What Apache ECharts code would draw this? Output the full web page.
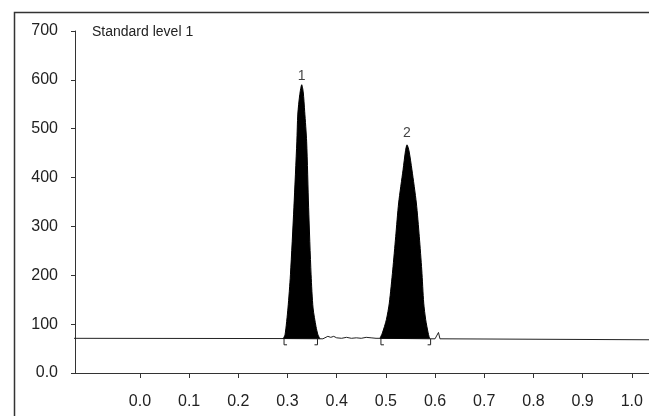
<!DOCTYPE html>
<html>
<head>
<meta charset="utf-8">
<script src="https://cdn.jsdelivr.net/npm/echarts@6/dist/echarts.min.js"></script>
<style>
html,body{margin:0;padding:0;background:#fff;}
#chart{width:649px;height:416px;}
</style>
</head>
<body>
<div id="chart"></div>
<script>
// Chart title
var titleText = 'Standard level 1';
// X tick labels (retention, arbitrary units)
var xTicks = [0.0, 0.1, 0.2, 0.3, 0.4, 0.5, 0.6, 0.7, 0.8, 0.9, 1.0];
// Baseline level
var baseLevel = 70;

// Peak 1 trace
var peak1X = [0.291, 0.295, 0.301, 0.306, 0.313, 0.319, 0.321, 0.325, 0.329, 0.332, 0.335, 0.339, 0.343, 0.348, 0.352, 0.358, 0.362, 0.366];
var peak1Y = [70, 78, 133, 201, 338, 473, 530, 570, 590, 575, 535, 473, 338, 201, 133, 95, 78, 70];
var peak1Label = '1';

// Peak 2 trace
var peak2X = [0.488, 0.493, 0.501, 0.507, 0.514, 0.520, 0.526, 0.535, 0.540, 0.543, 0.547, 0.553, 0.562, 0.568, 0.573, 0.577, 0.581, 0.586, 0.589];
var peak2Y = [71, 82, 109, 143, 211, 279, 348, 416, 455, 467, 455, 416, 348, 279, 211, 143, 109, 82, 70];
var peak2Label = '2';

// Baseline with noise (outside peaks)
var noiseX = [-0.14, 0.291, 0.366, 0.372, 0.376, 0.382, 0.388, 0.394, 0.400, 0.410, 0.420, 0.430, 0.440, 0.450, 0.460, 0.470, 0.480, 0.488, 0.589, 0.600, 0.604, 0.607, 0.610, 1.04];
var noiseY = [71, 70.5, 70, 70, 74, 75, 73, 75, 72, 71, 73, 71, 72, 71, 73, 72, 71, 71, 70, 70, 72, 83, 70, 68];

// Integration brackets
var bracketX = [0.293, 0.361, 0.490, 0.591];
var bracketSide = [-1, 1, -1, 1];

function pairs(xs, ys) { return xs.map(function (x, i) { return [x, ys[i]]; }); }
function apexOf(xs, ys, lab, dist) {
  var i = ys.indexOf(Math.max.apply(null, ys));
  return { value: [xs[i], ys[i]], label: { formatter: lab, distance: dist } };
}

var chart = echarts.init(document.getElementById('chart'), null, { renderer: 'canvas' });
var FONT = 'Liberation Sans, Arial, sans-serif';
var option = {
  animation: false,
  backgroundColor: '#fff',
  grid: { left: 75, right: 0, top: 31, bottom: 43, containLabel: false },
  graphic: [
    { type: 'rect', left: 12, top: 10, shape: { width: 700, height: 500 },
      style: { fill: 'none', stroke: '#333', lineWidth: 1.5 }, silent: true },
    { type: 'text', left: 92, top: 25, style: { text: titleText, fill: '#222', font: '14px ' + FONT } }
  ],
  xAxis: {
    type: 'value', min: -0.132, max: 1.035,
    splitLine: { show: false },
    axisLine: { onZero: false, lineStyle: { color: '#333', width: 1 } },
    axisTick: { show: true, length: 5, customValues: xTicks, lineStyle: { color: '#333' } },
    axisLabel: { customValues: xTicks, margin: 21, color: '#222', fontSize: 16, fontFamily: FONT,
      formatter: function (v) { return v.toFixed(1); } }
  },
  yAxis: {
    type: 'value', min: 0, max: 700, interval: 100,
    splitLine: { show: false },
    axisLine: { show: true, onZero: false, lineStyle: { color: '#333', width: 1 } },
    axisTick: { show: true, length: 4, lineStyle: { color: '#333' } },
    axisLabel: { margin: 17, color: '#222', fontSize: 16, fontFamily: FONT,
      formatter: function (v) { return v === 0 ? '0.0' : String(v); } }
  },
  series: [
    { type: 'line', data: pairs(noiseX, noiseY), symbol: 'none', lineStyle: { color: '#222', width: 1 }, z: 3 },
    { type: 'line', data: pairs(peak1X, peak1Y), symbol: 'none', smooth: 0.25,
      lineStyle: { color: '#000', width: 1 }, areaStyle: { color: '#000', opacity: 1, origin: baseLevel }, z: 4 },
    { type: 'line', data: pairs(peak2X, peak2Y), symbol: 'none', smooth: 0.25,
      lineStyle: { color: '#000', width: 1 }, areaStyle: { color: '#000', opacity: 1, origin: baseLevel }, z: 4 },
    { type: 'scatter', symbolSize: 1, itemStyle: { color: 'rgba(0,0,0,0)' }, z: 6,
      label: { show: true, position: 'top', color: '#111', fontSize: 14, fontFamily: FONT },
      data: [apexOf(peak1X, peak1Y, peak1Label, 1), apexOf(peak2X, peak2Y, peak2Label, 4)] },
    { type: 'custom', z: 5,
      data: bracketX.map(function (x, i) { return [x, baseLevel, bracketSide[i]]; }),
      renderItem: function (params, api) {
        var p = api.coord([api.value(0), api.value(1)]);
        var s = api.value(2);
        return { type: 'polyline',
          shape: { points: [[p[0] - s * 3, p[1] + 6], [p[0], p[1] + 6], [p[0], p[1]]] },
          style: { stroke: '#222', lineWidth: 1, fill: 'none' } };
      }
    }
  ]
};
chart.setOption(option);
</script>
</body>
</html>
